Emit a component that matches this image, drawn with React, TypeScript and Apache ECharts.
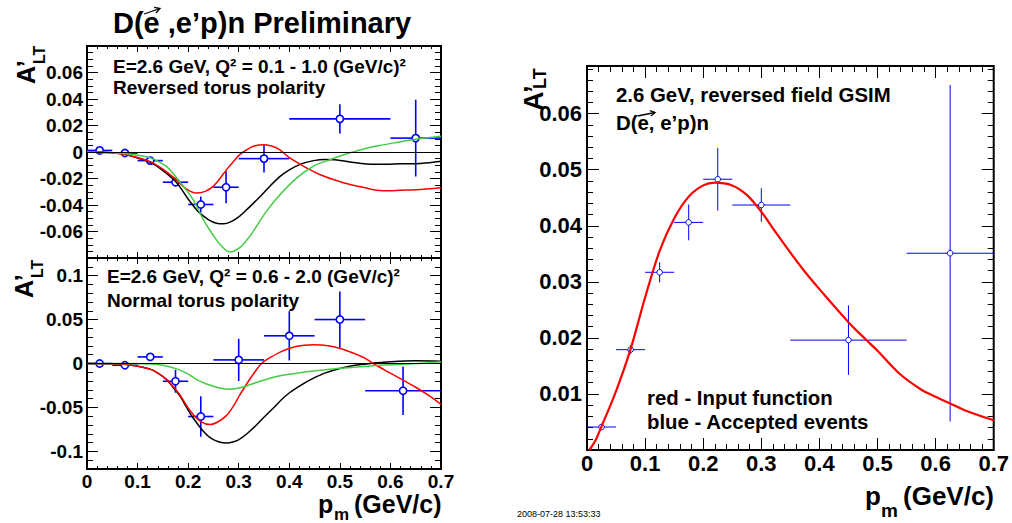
import React, { useEffect, useRef } from "react";
import * as echarts from "echarts";

// ---------- data: top-left panel (reversed torus polarity) ----------
const topPtsX = [0.025, 0.075, 0.125, 0.175, 0.225, 0.275, 0.35, 0.5, 0.65];
const topPtsY = [0.0012, -0.0008, -0.0065, -0.0228, -0.0396, -0.0266, -0.005, 0.025, 0.0105];
const topPtsXErr = [0.025, 0.025, 0.025, 0.025, 0.025, 0.025, 0.05, 0.1, 0.05];
const topPtsYErr = [0.0005, 0.001, 0.001, 0.003, 0.006, 0.012, 0.0105, 0.011, 0.029];

const topBlack = [[0,0],[0.05,-0.0005],[0.078,-0.002],[0.1,-0.0045],[0.126,-0.008],[0.15,-0.014],[0.177,-0.023],[0.2,-0.0355],[0.22,-0.045],[0.24,-0.051],[0.256,-0.0538],[0.27,-0.0542],[0.285,-0.0525],[0.302,-0.0484],[0.32,-0.042],[0.34,-0.0345],[0.355,-0.0285],[0.38,-0.019],[0.401,-0.0133],[0.425,-0.0088],[0.448,-0.0065],[0.47,-0.0056],[0.49,-0.0058],[0.52,-0.0075],[0.553,-0.009],[0.59,-0.0093],[0.62,-0.0089],[0.66,-0.0086],[0.7,-0.007]];
const topRed = [[0,0],[0.05,-0.0005],[0.078,-0.002],[0.1,-0.0042],[0.126,-0.0075],[0.15,-0.013],[0.176,-0.0208],[0.195,-0.0275],[0.2165,-0.031],[0.235,-0.0295],[0.25,-0.0258],[0.263,-0.02],[0.276,-0.0133],[0.29,-0.007],[0.302,-0.002],[0.315,0.0015],[0.329,0.0043],[0.349,0.0055],[0.365,0.0045],[0.38,0.002],[0.401,-0.0045],[0.434,-0.012],[0.46,-0.017],[0.487,-0.0208],[0.52,-0.0246],[0.55,-0.027],[0.573,-0.0288],[0.6,-0.0292],[0.619,-0.0288],[0.65,-0.0285],[0.7,-0.027]];
const topGreen = [[0,0],[0.078,-0.0013],[0.1,-0.0025],[0.126,-0.0045],[0.145,-0.008],[0.157,-0.0108],[0.17,-0.016],[0.18,-0.021],[0.195,-0.028],[0.21,-0.036],[0.23,-0.051],[0.25,-0.063],[0.265,-0.0705],[0.283,-0.0755],[0.302,-0.0722],[0.315,-0.067],[0.329,-0.0597],[0.355,-0.0446],[0.382,-0.032],[0.415,-0.0195],[0.447,-0.0108],[0.48,-0.0058],[0.514,-0.0013],[0.547,0.0023],[0.58,0.005],[0.612,0.0072],[0.645,0.0093],[0.7,0.0118]];

// ---------- data: bottom-left panel (normal torus polarity) ----------
const botPtsX = [0.025, 0.075, 0.125, 0.175, 0.225, 0.3, 0.4, 0.5, 0.625];
const botPtsY = [0, -0.002, 0.0075, -0.0202, -0.0603, 0.0041, 0.0315, 0.05, -0.031];
const botPtsXErr = [0.025, 0.025, 0.025, 0.025, 0.025, 0.05, 0.05, 0.05, 0.075];
const botPtsYErr = [0.001, 0.002, 0.004, 0.013, 0.023, 0.024, 0.028, 0.032, 0.0275];

const botBlack = [[0,0],[0.05,-0.0003],[0.078,-0.001],[0.1,-0.003],[0.126,-0.0067],[0.14,-0.011],[0.157,-0.018],[0.17,-0.027],[0.184,-0.037],[0.197,-0.05],[0.21,-0.062],[0.23,-0.077],[0.245,-0.085],[0.26,-0.089],[0.276,-0.0905],[0.29,-0.089],[0.302,-0.086],[0.318,-0.079],[0.335,-0.07],[0.352,-0.06],[0.368,-0.051],[0.385,-0.041],[0.401,-0.033],[0.425,-0.024],[0.447,-0.017],[0.47,-0.011],[0.5,-0.0056],[0.53,-0.002],[0.56,0],[0.6,0.0019],[0.65,0.003],[0.7,0.0026]];
const botRed = [[0,0],[0.05,-0.0003],[0.078,-0.001],[0.1,-0.003],[0.126,-0.0067],[0.14,-0.011],[0.157,-0.018],[0.17,-0.026],[0.184,-0.036],[0.197,-0.048],[0.21,-0.058],[0.225,-0.066],[0.243,-0.0695],[0.26,-0.066],[0.276,-0.059],[0.29,-0.048],[0.302,-0.036],[0.316,-0.023],[0.329,-0.012],[0.345,0],[0.36,0.006],[0.382,0.013],[0.415,0.0195],[0.447,0.0213],[0.48,0.0198],[0.514,0.0145],[0.547,0.0068],[0.566,0],[0.6,-0.011],[0.625,-0.019],[0.65,-0.027],[0.675,-0.036],[0.7,-0.0465]];
const botGreen = [[0,0],[0.1,-0.0002],[0.126,-0.0005],[0.15,-0.002],[0.18,-0.0067],[0.2,-0.012],[0.216,-0.018],[0.235,-0.023],[0.25,-0.0258],[0.268,-0.0285],[0.283,-0.0292],[0.3,-0.0278],[0.315,-0.0255],[0.349,-0.019],[0.382,-0.014],[0.415,-0.011],[0.447,-0.0086],[0.48,-0.0066],[0.514,-0.0049],[0.58,-0.0019],[0.645,-0.0004],[0.7,0.0019]];

// ---------- data: right panel (GSIM) ----------
const rPtsX = [0.025, 0.075, 0.125, 0.175, 0.225, 0.3, 0.45, 0.625];
const rPtsY = [0.0041, 0.0179, 0.0317, 0.0406, 0.0483, 0.0437, 0.0196, 0.0351];
const rPtsXErr = [0.025, 0.025, 0.025, 0.025, 0.025, 0.05, 0.1, 0.075];
const rPtsYErr = [0.0005, 0.0008, 0.0018, 0.0032, 0.0056, 0.003, 0.0062, 0.03];
const rRed = [[0.004,0],[0.015,0.0018],[0.025,0.0042],[0.05,0.0105],[0.075,0.018],[0.1,0.0272],[0.125,0.0355],[0.15,0.0413],[0.175,0.0452],[0.2,0.0472],[0.22,0.0477],[0.25,0.0472],[0.275,0.0455],[0.3,0.0425],[0.325,0.0388],[0.35,0.0352],[0.375,0.0318],[0.4,0.0287],[0.45,0.0228],[0.48,0.0197],[0.5,0.0177],[0.537,0.0137],[0.575,0.0108],[0.6,0.0095],[0.625,0.0083],[0.65,0.0071],[0.7,0.0053]];

// ---------- axis ranges / tick steps ----------
const xRange = [0, 0.7];
const xMajorStep = 0.1, xMinorStep = 0.02;
const topYRange = [-0.08, 0.08];
const topYMajor = 0.02, topYMinor = 0.005;
const botYRange = [-0.12, 0.12];
const botYLabelRange = [-0.1, 0.1];
const botYMajor = 0.05, botYMinor = 0.01;
const rYRange = [0, 0.0685];
const rYMajor = 0.01, rYMinor = 0.002;

const FONT = '"Liberation Sans", Arial, Helvetica, sans-serif';
const BLUE = "#0000ff";
const fmt = (v: number) => String(parseFloat(Number(v).toFixed(4)));

function tickAxis(g: number, pos: string, min: number, max: number, interval: number, len: number, label: any = null, extra: any = {}) {
  return {
    type: "value", gridIndex: g, position: pos, min, max, interval,
    axisLine: { show: true, onZero: false, lineStyle: { color: "#000", width: 1 } },
    splitLine: { show: false }, minorTick: { show: false },
    axisTick: { show: true, inside: true, length: len, lineStyle: { color: "#000", width: 1 } },
    axisLabel: label ? label : { show: false },
    ...extra,
  };
}

function labelOpt(size: number, margin: number, hideEnds = false) {
  return { show: true, formatter: fmt, fontFamily: FONT, fontWeight: "bold", fontSize: size, color: "#000", margin,
    showMinLabel: !hideEnds, showMaxLabel: !hideEnds };
}

function curve(xi: number, yi: number, data: number[][], color: string, width: number, extra: any = {}) {
  return { type: "line", xAxisIndex: xi, yAxisIndex: yi, data, showSymbol: false, symbol: "none", smooth: 0.35,
    lineStyle: { color, width }, z: 4, clip: true, silent: true, ...extra };
}

function errPoints(xi: number, yi: number, xs: number[], ys: number[], xe: number[], ye: number[], r: number, lw: number) {
  const data = xs.map((x, i) => [x, ys[i], xe[i], ye[i]]);
  return {
    type: "custom", xAxisIndex: xi, yAxisIndex: yi, clip: true, z: 3, silent: true, data,
    encode: { x: 0, y: 1 },
    renderItem: (_p: any, api: any) => {
      const x = api.value(0), y = api.value(1), dx = api.value(2), dy = api.value(3);
      const c = api.coord([x, y]);
      const l = api.coord([x - dx, y]);
      const rr = api.coord([x + dx, y]);
      const t = api.coord([x, y + dy]);
      const b = api.coord([x, y - dy]);
      const st = { stroke: BLUE, lineWidth: lw };
      const ch: any[] = [];
      if (c[0] - l[0] > r) ch.push({ type: "line", shape: { x1: l[0], y1: c[1], x2: c[0] - r, y2: c[1] }, style: st });
      if (rr[0] - c[0] > r) ch.push({ type: "line", shape: { x1: c[0] + r, y1: c[1], x2: rr[0], y2: c[1] }, style: st });
      if (c[1] - t[1] > r) ch.push({ type: "line", shape: { x1: c[0], y1: t[1], x2: c[0], y2: c[1] - r }, style: st });
      if (b[1] - c[1] > r) ch.push({ type: "line", shape: { x1: c[0], y1: c[1] + r, x2: c[0], y2: b[1] }, style: st });
      ch.push({ type: "circle", shape: { cx: c[0], cy: c[1], r }, style: { fill: "transparent", stroke: BLUE, lineWidth: lw } });
      return { type: "group", children: ch };
    },
  };
}

// text helper: positioned by baseline
function txt(x: number, baseline: number, text: string, size: number, weight = "bold", extra: any = {}) {
  return { type: "text", x, y: baseline - 0.3465 * size, silent: true,
    style: { text, fill: "#000", fontFamily: FONT, fontWeight: weight, fontSize: size, lineHeight: Math.round(size * 0.8),
      verticalAlign: "middle", align: "left", ...extra } };
}

function arrow(x1: number, y1: number, x2: number, y2: number, head: number) {
  const dx = x2 - x1, dy = y2 - y1;
  const L = Math.hypot(dx, dy);
  const ux = -dx / L, uy = -dy / L;
  const a = Math.PI / 6;
  const h1 = [x2 + head * (ux * Math.cos(a) - uy * Math.sin(a)), y2 + head * (ux * Math.sin(a) + uy * Math.cos(a))];
  const h2 = [x2 + head * (ux * Math.cos(-a) - uy * Math.sin(-a)), y2 + head * (ux * Math.sin(-a) + uy * Math.cos(-a))];
  const st = { stroke: "#000", lineWidth: 1.3 };
  return [
    { type: "line", silent: true, shape: { x1, y1, x2, y2 }, style: st },
    { type: "polyline", silent: true, shape: { points: [h1, [x2, y2], h2] }, style: { ...st, fill: null } },
  ];
}

function yTitle(x: number, y: number, sz: number, subSz: number, subX: number, subDrop: number) {
  return {
    type: "group", x, y, rotation: Math.PI / 2, silent: true,
    children: [
      txt(0, 0, "A’", sz),
      txt(subX, subDrop, "LT", subSz),
    ],
  };
}

export default function App() {
  const ref = useRef<HTMLDivElement>(null);
  useEffect(() => {
    if (!ref.current) return;
    const chart = echarts.init(ref.current, undefined, { renderer: "svg" });
    const [x0, x1] = xRange;

    const xAxis = [
      // grid 0 (top-left)
      tickAxis(0, "bottom", x0, x1, xMajorStep, 6),
      tickAxis(0, "bottom", x0, x1, xMinorStep, 3),
      tickAxis(0, "top", x0, x1, xMajorStep, 6),
      tickAxis(0, "top", x0, x1, xMinorStep, 3),
      // grid 1 (bottom-left)
      tickAxis(1, "bottom", x0, x1, xMajorStep, 6, labelOpt(19, 3)),
      tickAxis(1, "bottom", x0, x1, xMinorStep, 3),
      tickAxis(1, "top", x0, x1, xMajorStep, 6),
      tickAxis(1, "top", x0, x1, xMinorStep, 3),
      // grid 2 (right)
      tickAxis(2, "bottom", x0, x1, xMajorStep, 12, labelOpt(22, 2)),
      tickAxis(2, "bottom", x0, x1, xMinorStep, 6),
      tickAxis(2, "top", x0, x1, xMajorStep, 12),
      tickAxis(2, "top", x0, x1, xMinorStep, 6),
      // grid 3 (helper for bottom-left major y ticks)
      { type: "value", gridIndex: 3, min: x0, max: x1, show: false },
    ];
    const yAxis = [
      // grid 0
      tickAxis(0, "left", topYRange[0], topYRange[1], topYMajor, 11, labelOpt(19, 4, true)),
      tickAxis(0, "left", topYRange[0], topYRange[1], topYMinor, 6),
      tickAxis(0, "right", topYRange[0], topYRange[1], topYMajor, 11),
      tickAxis(0, "right", topYRange[0], topYRange[1], topYMinor, 6),
      // grid 1 (minor ticks; series axis = index 4)
      tickAxis(1, "left", botYRange[0], botYRange[1], botYMinor, 6),
      tickAxis(1, "right", botYRange[0], botYRange[1], botYMinor, 6),
      // grid 2 (series axis = index 6)
      tickAxis(2, "left", rYRange[0], rYRange[1], rYMajor, 12, labelOpt(22, 5, true)),
      tickAxis(2, "left", rYRange[0], rYRange[1], rYMinor, 6),
      tickAxis(2, "right", rYRange[0], rYRange[1], rYMajor, 12),
      tickAxis(2, "right", rYRange[0], rYRange[1], rYMinor, 6),
      // grid 3 (major ticks + labels of bottom-left)
      tickAxis(3, "left", botYLabelRange[0], botYLabelRange[1], botYMajor, 11, labelOpt(19, 4)),
      tickAxis(3, "right", botYLabelRange[0], botYLabelRange[1], botYMajor, 11),
    ];

    const zeroLine = {
      markLine: { silent: true, symbol: ["none", "none"], label: { show: false }, animation: false,
        lineStyle: { color: "#000", width: 1, type: "solid" }, data: [{ yAxis: 0 }] },
    };

    // bottom-left panel geometry, used to place the helper grid for its labelled ticks
    const bTop = 258, bH = 211;
    const bScale = bH / (botYRange[1] - botYRange[0]);
    const hTop = bTop + (botYRange[1] - botYLabelRange[1]) * bScale;
    const hH = (botYLabelRange[1] - botYLabelRange[0]) * bScale;

    const option: any = {
      animation: false,
      backgroundColor: "#fff",
      grid: [
        { left: 87, top: 46, width: 354, height: 212, show: true, borderColor: "#000", borderWidth: 2, backgroundColor: "transparent" },
        { left: 87, top: bTop, width: 354, height: bH, show: true, borderColor: "#000", borderWidth: 2, backgroundColor: "transparent" },
        { left: 587, top: 66, width: 408, height: 384, show: true, borderColor: "#000", borderWidth: 2, backgroundColor: "transparent" },
        { left: 87, top: hTop, width: 354, height: hH, show: false },
      ],
      xAxis,
      yAxis,
      series: [
        curve(0, 0, topBlack, "#000", 1.5, zeroLine),
        curve(0, 0, topRed, "#ff0000", 1.5),
        curve(0, 0, topGreen, "#44cc44", 1.5),
        errPoints(0, 0, topPtsX, topPtsY, topPtsXErr, topPtsYErr, 3.6, 1.6),
        curve(4, 4, botBlack, "#000", 1.5, zeroLine),
        curve(4, 4, botRed, "#ff0000", 1.5),
        curve(4, 4, botGreen, "#44cc44", 1.5),
        errPoints(4, 4, botPtsX, botPtsY, botPtsXErr, botPtsYErr, 3.6, 1.6),
        curve(8, 6, rRed, "#ff0000", 2.2),
        errPoints(8, 6, rPtsX, rPtsY, rPtsXErr, rPtsYErr, 2.8, 1),
      ],
      graphic: [
        txt(113, 33, "D(e ,e’p)n Preliminary", 29),
        ...arrow(144, 14, 160, 8.5, 6),
        txt(113, 72.8, "E=2.6 GeV, Q² = 0.1 - 1.0 (GeV/c)²", 19),
        txt(113, 94, "Reversed torus polarity", 19),
        txt(107, 283, "E=2.6 GeV, Q² = 0.6 - 2.0 (GeV/c)²", 19),
        txt(107, 307, "Normal torus polarity", 19),
        txt(616, 102, "2.6 GeV, reversed field GSIM", 20.4),
        txt(616, 130.5, "D(e, e’p)n", 20.4),
        ...arrow(637.5, 116, 655, 112.5, 5.5),
        txt(647, 405.5, "red - Input function", 20.4),
        txt(647, 429, "blue - Accepted events", 20.4),
        yTitle(35, 84, 25, 16, 20, 10),
        yTitle(33, 298, 25, 16, 20, 10),
        yTitle(543, 111, 27, 18, 22, 3),
        txt(318, 513, "p", 25),
        txt(334, 520, "m", 17),
        txt(354, 513, "(GeV/c)", 25),
        txt(865, 505, "p", 26),
        txt(881, 517, "m", 19),
        txt(903, 505, "(GeV/c)", 26),
        txt(517, 517, "2008-07-28 13:53:33", 9, "normal"),
      ],
    };
    chart.setOption(option);
    return () => chart.dispose();
  }, []);
  return <div ref={ref} style={{ position: "absolute", left: 0, top: 0, width: 1012, height: 523, background: "#fff" }} />;
}
